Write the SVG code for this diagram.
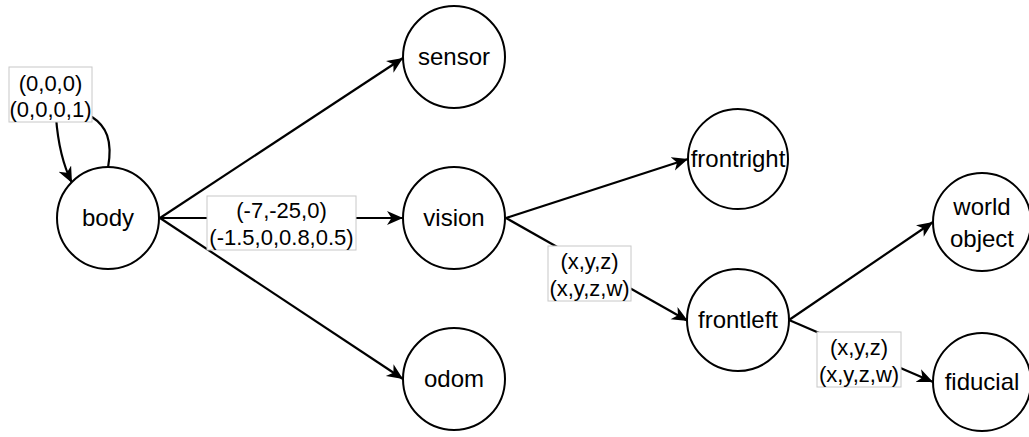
<svg xmlns="http://www.w3.org/2000/svg" width="1029" height="437" viewBox="0 0 1029 437">
  <style>
    .node circle { fill: #ffffff; stroke: #000000; stroke-width: 2; }
    .node text { font-family: "Liberation Sans", Arial, sans-serif; font-size: 24px; fill: #000000; text-anchor: middle; }
    .edge { fill: none; stroke: #000000; stroke-width: 2.2; marker-end: url(#arrow); }
    .label rect { fill: #ffffff; stroke: #c8c8c8; stroke-width: 1; }
    .label text { font-family: "Liberation Sans", Arial, sans-serif; font-size: 22px; fill: #000000; text-anchor: middle; }
  </style>
  <defs>
    <marker id="arrow" markerUnits="userSpaceOnUse" markerWidth="18" markerHeight="16" refX="16" refY="7" orient="auto">
      <path d="M0,0 L16,7 L0,14 L4.5,7 z" fill="#000000"/>
    </marker>
  </defs>
  <rect width="1029" height="437" fill="#ffffff"/>

  <g id="connectors">
    <path class="edge" d="M108,168 C113,140 106,126 92,117 L56,117 C58,145 63,165 72,183"/>
    <path class="edge" d="M160,218 L403,58"/>
    <path class="edge" d="M160,218 L403,218"/>
    <path class="edge" d="M160,218 L403,379"/>
    <path class="edge" d="M506,218 L688,159"/>
    <path class="edge" d="M506,218 L688,321"/>
    <path class="edge" d="M789,320 L933,222"/>
    <path class="edge" d="M789,320 L933,382"/>

    <g class="label">
      <rect x="9" y="67" width="83" height="55"/>
      <text x="50.5" y="91">(0,0,0)</text>
      <text x="50.5" y="117">(0,0,0,1)</text>
    </g>
    <g class="label">
      <rect x="207" y="196" width="149" height="54"/>
      <text x="281.5" y="218">(-7,-25,0)</text>
      <text x="281.5" y="245">(-1.5,0,0.8,0.5)</text>
    </g>
    <g class="label">
      <rect x="548" y="246" width="83" height="55"/>
      <text x="589.5" y="269">(x,y,z)</text>
      <text x="589.5" y="296">(x,y,z,w)</text>
    </g>
    <g class="label">
      <rect x="817" y="332" width="84" height="55"/>
      <text x="859" y="355">(x,y,z)</text>
      <text x="859" y="382">(x,y,z,w)</text>
    </g>
  </g>

  <g id="body" class="node">
    <circle cx="108" cy="218" r="51"/>
    <text x="108" y="226">body</text>
  </g>
  <g id="sensor" class="node">
    <circle cx="454" cy="57" r="51"/>
    <text x="454" y="65">sensor</text>
  </g>
  <g id="vision" class="node">
    <circle cx="454" cy="218" r="51"/>
    <text x="454" y="226">vision</text>
  </g>
  <g id="odom" class="node">
    <circle cx="454" cy="379" r="51"/>
    <text x="454" y="387">odom</text>
  </g>
  <g id="frontright" class="node">
    <circle cx="738" cy="159" r="50"/>
    <text x="738" y="167">frontright</text>
  </g>
  <g id="frontleft" class="node">
    <circle cx="738" cy="320" r="51"/>
    <text x="738" y="328">frontleft</text>
  </g>
  <g id="world-object" class="node">
    <circle cx="982" cy="222" r="49"/>
    <text x="982" y="215">world</text>
    <text x="982" y="247">object</text>
  </g>
  <g id="fiducial" class="node">
    <circle cx="982" cy="382" r="49"/>
    <text x="982" y="390">fiducial</text>
  </g>
</svg>
